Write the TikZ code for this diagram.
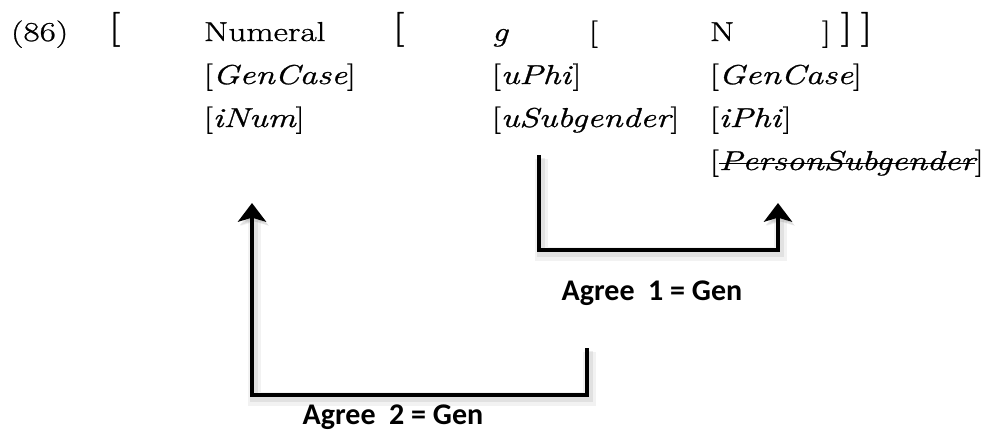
\documentclass[tikz,border=0pt]{standalone}
\usepackage{fontspec}
\setmainfont{Latin Modern Roman}[FakeStretch=1.29, FakeBold=1]
\newfontfamily\agreefont{Carlito}
\usetikzlibrary{arrows.meta}

% struck-through feature value
\newcommand\crossed[1]{\begingroup\setbox0\hbox{#1}\rlap{\rule[0.22em]{\wd0}{0.05em}}\box0\endgroup}

\begin{document}
\begin{tikzpicture}[x=0.75pt, y=-0.75pt,
    every node/.style={inner sep=0pt, outer sep=0pt, anchor=base west, font={\fontsize{20.5}{24}\selectfont}},
    brk/.style={font={\fontsize{26}{30}\selectfont}},
    feat/.style={font={\fontsize{20.5}{24}\selectfont\itshape}},
    agree/.style={line width=3.5pt, line join=miter, -{Stealth[length=14pt, width=21pt, inset=3pt]},
        preaction={draw=black, opacity=0.05, line width=10pt, transform canvas={shift={(2pt,-3pt)}}},
        preaction={draw=black, opacity=0.07, line width=6pt, transform canvas={shift={(1.5pt,-2.5pt)}}}},
    agreelabel/.style={anchor=base, font={\agreefont\bfseries\fontsize{22.5}{26}\selectfont}}]
    \useasboundingbox (0,0) rectangle (992,430);

    % FIRST ROW
    \node (num) at (11,41) {(86)};
    \node[brk] (lb1) at (109,38) {[};
    \node (numeral) at (204,41) {Numeral};
    \node[brk] (lb2) at (393,38) {[};
    \node[feat] (g) at (492,41) {g};
    \node (lb3) at (589,41) {[};
    \node (n) at (710,41) {N};
    \node (rb3) at (822,41) {]};
    \node[brk] (rb2) at (841,38) {]};
    \node[brk] (rb1) at (861,38) {]};

    % FEATURES
    \node (gencase1) at (204,84) {[{\itshape GenCase}]};
    \node (inum) at (204,127) {[{\itshape iNum}]};
    \node (uphi) at (492,84) {[{\itshape uPhi\/}]};
    \node (usub) at (492,127) {[{\itshape uSubgender}]};
    \node (gencase2) at (710,84) {[{\itshape GenCase}]};
    \node (iphi) at (710,127) {[{\itshape iPhi\/}]};
    \node (psub) at (710,170) {[\crossed{\itshape PersonSubgender}]};

    % AGREE 1
    \coordinate (a1start) at (539,155);
    \coordinate (a1corner) at (778,250);
    \coordinate (a1end) at (778,203);
    \draw[agree] (a1start) |- (a1corner) -- (a1end);
    \node[agreelabel] (agree1) at (652,300) {Agree~~1 = Gen};

    % AGREE 2
    \coordinate (a2start) at (587,348);
    \coordinate (a2corner) at (252,395);
    \coordinate (a2end) at (252,203);
    \draw[agree] (a2start) |- (a2corner) -- (a2end);
    \node[agreelabel] (agree2) at (393,424) {Agree~~2 = Gen};
\end{tikzpicture}
\end{document}
